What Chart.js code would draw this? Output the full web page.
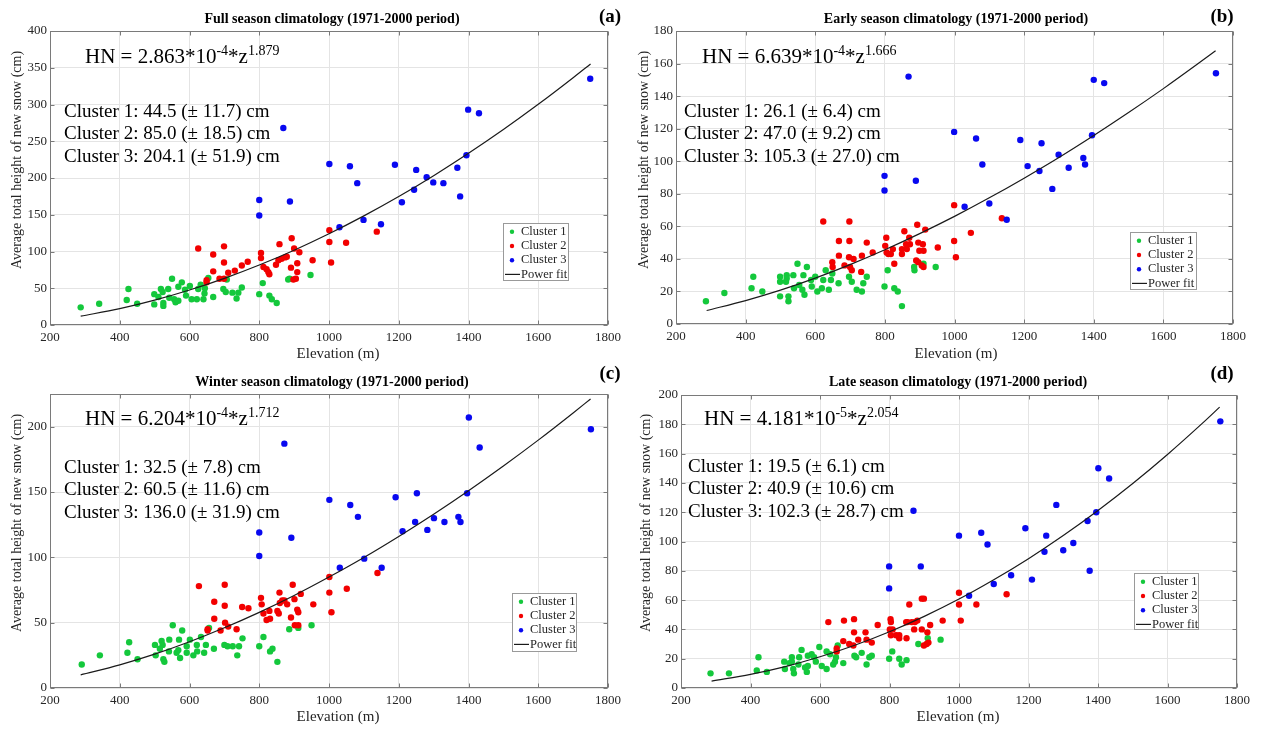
<!DOCTYPE html>
<html>
<head>
<meta charset="utf-8">
<script src="https://cdn.jsdelivr.net/npm/chart.js@4.4.1/dist/chart.umd.min.js"></script>
<style>
html,body{margin:0;padding:0;background:#fff;}
#wrap{position:relative;width:1270px;height:729px;overflow:hidden;}
#wrap canvas{position:absolute;}
</style>
</head>
<body>
<div id="wrap"></div>
<script>
'use strict';
// ---- data: [elevation m, HN cm] ----
const fullC1=[[288,24],[341,29],[425,49],[420,34],[450,29],[499,42],[499,28],[518,49],[523,45],[511,38],[525,30],[525,26],[539,49],[542,37],[550,63],[556,35],[560,31],[568,33],[578,58],[568,52],[587,48],[590,40],[601,53],[606,35],[621,35],[625,49],[632,55],[643,43],[640,35],[644,50],[654,64],[668,38],[697,49],[704,45],[723,44],[735,36],[740,44],[750,51],[707,62],[800,42],[810,57],[829,40],[836,35],[850,30],[883,62],[947,68],[887,63]];
const fullC2=[[625,104],[699,107],[668,96],[699,85],[668,73],[649,61],[649,58],[686,63],[699,63],[711,71],[730,74],[750,81],[767,86],[805,98],[805,91],[812,79],[821,76],[826,72],[829,69],[858,110],[848,82],[855,88],[864,90],[874,92],[879,93],[893,118],[900,104],[915,99],[891,78],[909,84],[909,72],[905,63],[898,62],[953,88],[1001,129],[1001,113],[1006,85],[1049,112],[1137,127]];
const fullC3=[[869,268],[800,170],[800,149],[888,168],[1001,219],[1060,216],[1030,133],[1081,193],[1099,143],[1149,137],[1189,218],[1209,167],[1244,184],[1250,211],[1280,201],[1299,194],[1328,193],[1368,214],[1376,175],[1394,231],[1399,293],[1430,288],[1749,335]];

const earlyC1=[[286,14],[339,19],[422,29],[417,22],[448,20],[499,29],[499,26],[499,17],[518,30],[518,28],[523,17],[523,14],[516,26],[537,30],[539,22],[549,37],[554,24],[563,21],[569,18],[566,30],[576,35],[588,27],[600,29],[590,23],[606,20],[619,22],[623,27],[630,33],[639,21],[645,27],[649,31],[667,25],[697,29],[705,26],[719,21],[734,20],[738,25],[748,29],[799,23],[808,33],[827,22],[837,20],[849,11],[884,35],[885,33],[911,37],[946,35]];
const earlyC2=[[623,63],[698,63],[668,51],[698,51],[748,50],[668,42],[697,41],[710,40],[734,42],[649,38],[650,35],[684,36],[700,35],[705,33],[732,32],[765,44],[804,53],[801,48],[805,44],[810,43],[817,43],[827,37],[823,46],[849,46],[849,43],[856,57],[861,49],[863,46],[870,53],[872,49],[893,61],[896,50],[899,45],[909,49],[911,45],[916,58],[890,39],[896,38],[906,36],[911,35],[952,47],[999,73],[999,51],[1004,41],[1047,56],[1136,65]];
const earlyC3=[[868,152],[799,91],[799,82],[889,88],[999,118],[1029,72],[1062,114],[1080,98],[1100,74],[1150,64],[1189,113],[1210,97],[1244,94],[1250,111],[1281,83],[1299,104],[1328,96],[1370,102],[1375,98],[1395,116],[1400,150],[1430,148],[1751,154]];

const winterC1=[[291,18],[343,25],[427,35],[422,27],[451,22],[501,33],[503,25],[520,36],[523,33],[515,30],[525,22],[528,20],[542,37],[541,28],[552,48],[563,27],[568,29],[573,23],[579,44],[570,37],[592,32],[592,27],[601,37],[611,25],[622,28],[621,33],[633,39],[642,27],[647,33],[656,46],[670,30],[700,33],[709,32],[724,32],[737,25],[742,32],[752,38],[800,32],[812,39],[831,28],[838,30],[852,20],[886,45],[950,48],[912,46]];
const winterC2=[[627,78],[701,79],[671,66],[701,63],[671,53],[652,45],[652,44],[689,44],[702,50],[711,47],[735,45],[751,62],[769,61],[805,69],[807,64],[812,57],[821,52],[831,53],[829,59],[858,73],[859,65],[866,67],[872,67],[880,64],[852,59],[856,57],[896,79],[901,68],[919,72],[909,60],[912,58],[891,54],[902,48],[912,48],[955,64],[1001,85],[1001,73],[1007,58],[1051,76],[1139,88]];
const winterC3=[[872,187],[800,119],[800,101],[892,115],[1001,144],[1061,140],[1031,92],[1083,131],[1101,99],[1151,92],[1191,146],[1211,120],[1247,127],[1252,149],[1282,121],[1301,130],[1331,127],[1371,131],[1377,127],[1396,149],[1401,207],[1432,184],[1751,198]];

const lateC1=[[285,10],[338,10],[423,21],[418,12],[447,11],[497,18],[499,13],[519,21],[519,18],[523,13],[525,10],[512,17],[540,21],[538,16],[547,26],[557,14],[562,11],[565,15],[565,22],[576,23],[583,21],[588,18],[598,28],[605,15],[619,13],[619,25],[629,23],[638,16],[643,18],[651,29],[646,21],[667,17],[699,22],[704,21],[720,24],[734,16],[742,21],[749,22],[799,20],[808,25],[828,20],[835,16],[849,19],[883,30],[910,34],[947,33]];
const lateC2=[[624,45],[669,46],[698,47],[698,38],[667,32],[648,27],[648,25],[684,30],[696,29],[710,33],[731,38],[734,33],[749,31],[766,43],[803,47],[804,45],[801,40],[809,40],[804,36],[819,36],[828,36],[828,34],[849,34],[848,45],[852,45],[857,57],[864,45],[873,45],[880,46],[871,40],[893,61],[899,61],[893,40],[917,43],[909,38],[899,29],[907,30],[912,31],[953,46],[1000,65],[1000,57],[1005,46],[1050,57],[1137,64]];
const lateC3=[[869,121],[799,83],[799,68],[890,83],[1000,104],[1029,63],[1064,106],[1082,98],[1100,71],[1150,77],[1191,109],[1210,74],[1246,93],[1251,104],[1280,125],[1300,94],[1329,99],[1370,114],[1376,80],[1395,120],[1401,150],[1432,143],[1752,182]];

// power fit curves
const fitX=[288,400,500,600,700,800,900,1000,1100,1200,1300,1400,1500,1600,1700,1750];
const fullFit=[12.0,22.2,33.8,47.6,63.5,81.6,101.8,124.1,148.5,174.8,203.2,233.6,265.9,300.2,336.4,355.2];
const earlyFit=[8.3,14.4,20.8,28.2,36.5,45.6,55.5,66.1,77.5,89.6,102.3,115.8,129.9,144.6,160.0,167.9];
const winterFit=[10.1,17.7,25.9,35.4,46.1,57.9,70.8,84.9,99.9,116.0,133.0,151.0,169.9,189.7,210.5,221.2];
const lateFit=[4.7,9.3,14.6,21.3,29.2,38.4,48.9,60.7,73.9,88.3,104.1,121.2,139.6,159.4,180.6,191.7];

const fullEq=['HN = 2.863*10','-4','*z','1.879'];
const earlyEq=['HN = 6.639*10','-4','*z','1.666'];
const winterEq=['HN = 6.204*10','-4','*z','1.712'];
const lateEq=['HN = 4.181*10','-5','*z','2.054'];

const fullStats=['Cluster 1: 44.5 (\u00b1 11.7) cm','Cluster 2: 85.0 (\u00b1 18.5) cm','Cluster 3: 204.1 (\u00b1 51.9) cm'];
const earlyStats=['Cluster 1: 26.1 (\u00b1 6.4) cm','Cluster 2: 47.0 (\u00b1 9.2) cm','Cluster 3: 105.3 (\u00b1 27.0) cm'];
const winterStats=['Cluster 1: 32.5 (\u00b1 7.8) cm','Cluster 2: 60.5 (\u00b1 11.6) cm','Cluster 3: 136.0 (\u00b1 31.9) cm'];
const lateStats=['Cluster 1: 19.5 (\u00b1 6.1) cm','Cluster 2: 40.9 (\u00b1 10.6) cm','Cluster 3: 102.3 (\u00b1 28.7) cm'];

const seriesNames=['Cluster 1','Cluster 2','Cluster 3','Power fit'];
const xLabel='Elevation (m)';
const yLabel='Average total height of new snow (cm)';

const SERIF="'Liberation Serif','Times New Roman',serif";
const INK='#262626';
const COLORS=['#14c83c','#f20000','#0808f0','#1a1a1a'];

const panels=[
  {key:'a',left:0,top:0,w:636,h:364,pad:{left:10,top:31,right:28,bottom:9},yMax:400,yStep:50,
   title:'Full season climatology (1971-2000 period)',titleAt:[332,19],letter:'(a)',letterAt:[610,17],
   eq:fullEq,eqAt:[85,63],stats:fullStats,statsAt:[64,117],legend:[503,223,66,58],
   yTitleAt:[17,160],xTitleAt:[338,354],c1:fullC1,c2:fullC2,c3:fullC3,fit:fullFit},
  {key:'b',left:636,top:0,w:634,h:364,pad:{left:0,top:31,right:37,bottom:10},yMax:180,yStep:20,
   title:'Early season climatology (1971-2000 period)',titleAt:[956,19],letter:'(b)',letterAt:[1222,17],
   eq:earlyEq,eqAt:[702,63],stats:earlyStats,statsAt:[684,117],legend:[1130,232,67,58],
   yTitleAt:[644,160],xTitleAt:[956,354],c1:earlyC1,c2:earlyC2,c3:earlyC3,fit:earlyFit},
  {key:'c',left:0,top:364,w:636,h:365,pad:{left:10,top:30,right:28,bottom:11},yMax:225,yStep:50,
   title:'Winter season climatology (1971-2000 period)',titleAt:[332,382],letter:'(c)',letterAt:[610,374],
   eq:winterEq,eqAt:[85,425],stats:winterStats,statsAt:[64,473],legend:[512,593,65,59],
   yTitleAt:[17,523],xTitleAt:[338,717],c1:winterC1,c2:winterC2,c3:winterC3,fit:winterFit},
  {key:'d',left:636,top:364,w:634,h:365,pad:{left:5,top:31,right:33,bottom:11},yMax:200,yStep:20,
   title:'Late season climatology (1971-2000 period)',titleAt:[958,382],letter:'(d)',letterAt:[1222,374],
   eq:lateEq,eqAt:[704,425],stats:lateStats,statsAt:[688,472],legend:[1134,573,65,57],
   yTitleAt:[646,523],xTitleAt:[958,717],c1:lateC1,c2:lateC2,c3:lateC3,fit:lateFit}
];

const toXY=arr=>arr.map(d=>({x:d[0],y:d[1]}));

function annotPlugin(p){
  return {
    id:'annot_'+p.key,
    afterDraw(chart){
      const ctx=chart.ctx, a=chart.chartArea, xs=chart.scales.x, ys=chart.scales.y;
      const L=Math.round(a.left)+0.5, R=Math.round(a.right)-0.5, T=Math.round(a.top)+0.5, B=Math.round(a.bottom)-0.5;
      ctx.save();
      // axes box with inward ticks
      ctx.strokeStyle='#7a7a7a'; ctx.lineWidth=1;
      ctx.strokeRect(L,T,R-L,B-T);
      ctx.beginPath();
      xs.ticks.forEach(t=>{
        const px=Math.round(xs.getPixelForValue(t.value))+0.5;
        ctx.moveTo(px,B); ctx.lineTo(px,B-4); ctx.moveTo(px,T); ctx.lineTo(px,T+4);
      });
      ys.ticks.forEach(t=>{
        const py=Math.round(ys.getPixelForValue(t.value))+0.5;
        ctx.moveTo(L,py); ctx.lineTo(L+4,py); ctx.moveTo(R,py); ctx.lineTo(R-4,py);
      });
      ctx.stroke();

      // everything else in page coordinates
      ctx.translate(-p.left,-p.top);
      ctx.fillStyle='#000';
      ctx.textAlign='center'; ctx.textBaseline='middle';
      ctx.font='bold 14px '+SERIF;
      ctx.fillText(p.title,p.titleAt[0],p.titleAt[1]);
      ctx.font='bold 19px '+SERIF;
      ctx.fillText(p.letter,p.letterAt[0],p.letterAt[1]);

      // axis titles
      ctx.fillStyle=INK;
      ctx.font='15px '+SERIF;
      ctx.fillText(xLabel,p.xTitleAt[0],p.xTitleAt[1]);
      ctx.font='14px '+SERIF;
      ctx.save();
      ctx.translate(p.yTitleAt[0],p.yTitleAt[1]); ctx.rotate(-Math.PI/2);
      ctx.fillText(yLabel,0,0);
      ctx.restore();

      // fit equation with superscripts
      ctx.fillStyle='#000';
      ctx.textAlign='left'; ctx.textBaseline='alphabetic';
      let x=p.eqAt[0]; const y=p.eqAt[1];
      p.eq.forEach((s,i)=>{
        const sup=i%2===1;
        ctx.font=(sup?'14px ':'21px ')+SERIF;
        ctx.fillText(s,x,sup?y-8:y);
        x+=ctx.measureText(s).width;
      });

      // cluster means
      ctx.font='19px '+SERIF;
      p.stats.forEach((s,i)=>ctx.fillText(s,p.statsAt[0],p.statsAt[1]+i*22.3));

      // legend box
      const [lx,ly,lw,lh]=p.legend;
      ctx.fillStyle='#fff'; ctx.fillRect(lx,ly,lw,lh);
      ctx.strokeStyle='#9a9a9a'; ctx.lineWidth=1;
      ctx.strokeRect(lx+0.5,ly+0.5,lw-1,lh-1);
      ctx.font='12.5px '+SERIF; ctx.textBaseline='middle';
      seriesNames.forEach((name,i)=>{
        const ry=ly+8.8+i*14.2;
        if(i<3){
          ctx.fillStyle=COLORS[i];
          ctx.beginPath(); ctx.arc(lx+9,ry,2.2,0,Math.PI*2); ctx.fill();
        }else{
          ctx.strokeStyle=COLORS[3]; ctx.lineWidth=1.2;
          ctx.beginPath(); ctx.moveTo(lx+2,ry); ctx.lineTo(lx+17,ry); ctx.stroke();
        }
        ctx.fillStyle=INK;
        ctx.fillText(name,lx+18,ry);
      });
      ctx.restore();
    }
  };
}

const plainTick=v=>String(v);

const wrap=document.getElementById('wrap');
panels.forEach(p=>{
  const cv=document.createElement('canvas');
  cv.width=p.w; cv.height=p.h;
  cv.style.left=p.left+'px'; cv.style.top=p.top+'px';
  cv.style.width=p.w+'px'; cv.style.height=p.h+'px';
  wrap.appendChild(cv);

  const pts=(data,i)=>({label:seriesNames[i],data:toXY(data),order:i===0?3:(i===1?2:1),
    pointRadius:3.2,pointHoverRadius:3.2,pointBorderWidth:0,borderWidth:0,
    backgroundColor:COLORS[i],pointBackgroundColor:COLORS[i]});

  new Chart(cv.getContext('2d'),{
    type:'scatter',
    data:{datasets:[
      pts(p.c1,0),pts(p.c2,1),pts(p.c3,2),
      {label:seriesNames[3],data:fitX.map((v,i)=>({x:v,y:p.fit[i]})),showLine:true,order:0,
       borderColor:COLORS[3],borderWidth:1.2,pointRadius:0,cubicInterpolationMode:'monotone',fill:false}
    ]},
    options:{
      responsive:false,animation:false,devicePixelRatio:1,
      layout:{padding:p.pad},
      plugins:{legend:{display:false},tooltip:{enabled:false},title:{display:false}},
      scales:{
        x:{type:'linear',min:200,max:1800,
           ticks:{stepSize:200,padding:5,color:INK,font:{family:SERIF,size:13},maxRotation:0,autoSkip:false,callback:plainTick},
           grid:{color:'#e4e4e4',drawTicks:false},border:{display:false},
           afterFit(s){s.height=30;}},
        y:{type:'linear',min:0,max:p.yMax,
           ticks:{stepSize:p.yStep,includeBounds:false,padding:3,color:INK,font:{family:SERIF,size:13},callback:plainTick},
           grid:{color:'#e4e4e4',drawTicks:false},border:{display:false},
           afterFit(s){s.width=40;}}
      }
    },
    plugins:[annotPlugin(p)]
  });
});
</script>
</body>
</html>
